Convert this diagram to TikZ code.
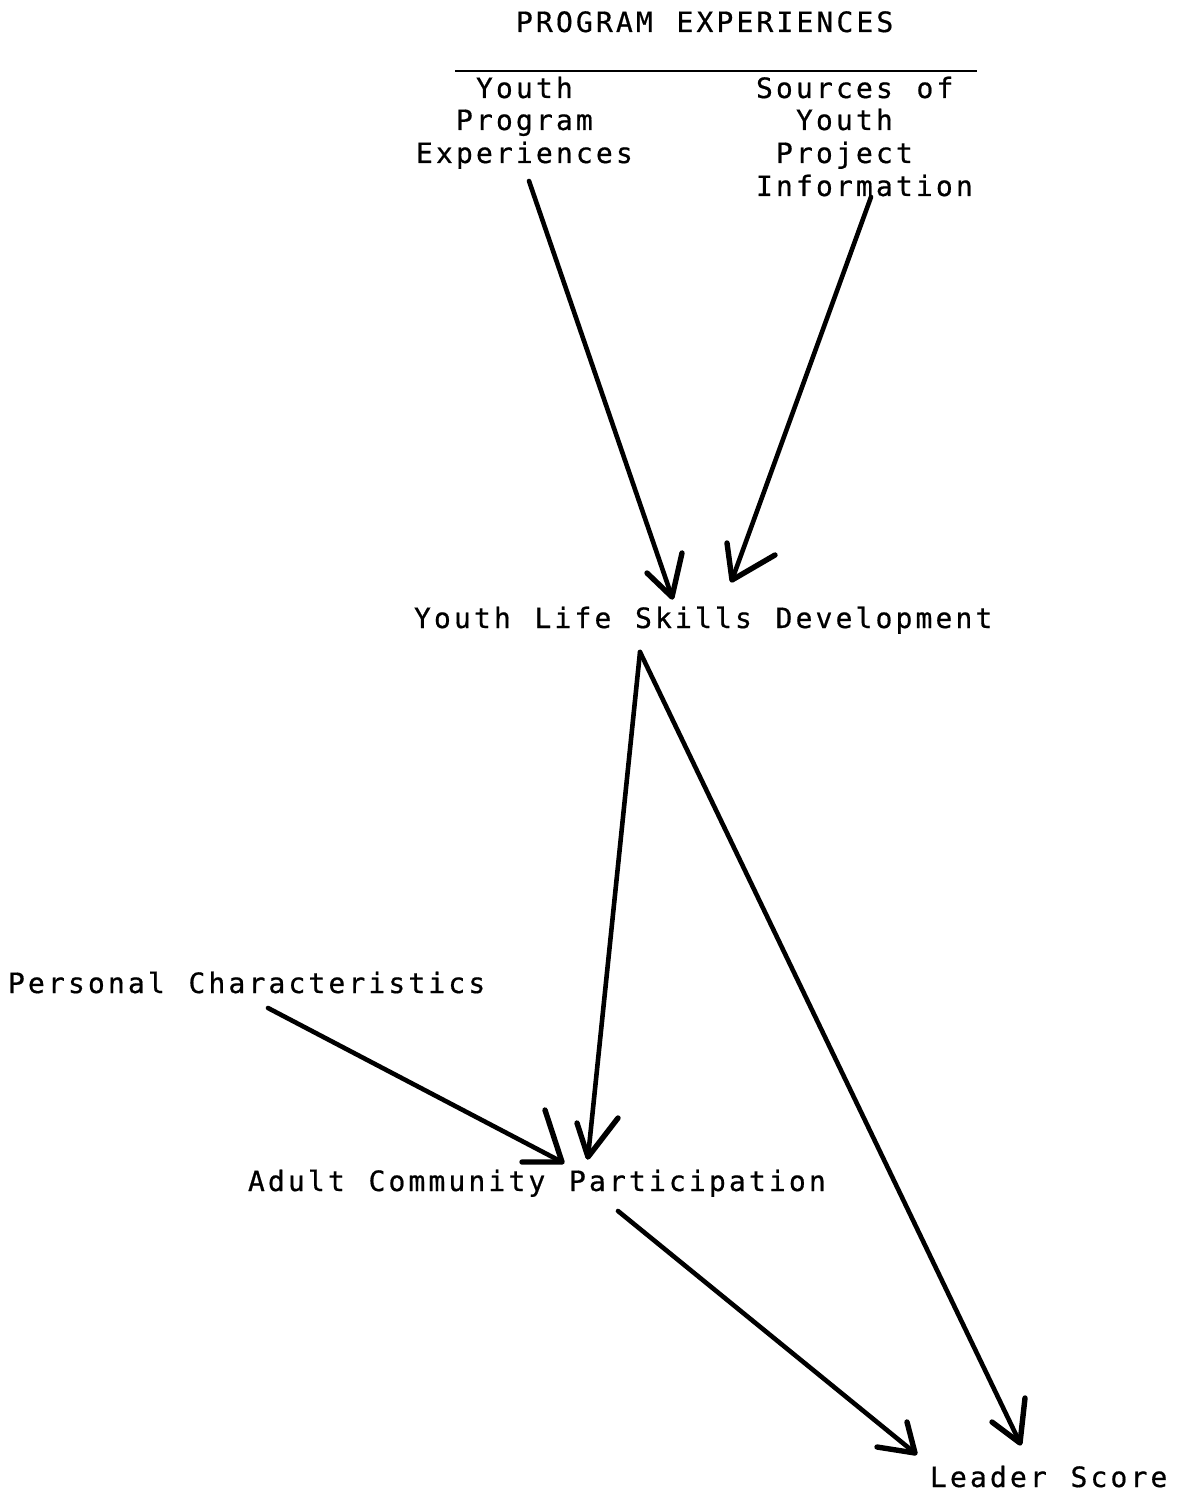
\documentclass[tikz,border=0pt]{standalone}
\usepackage{fontspec}
\newfontfamily\twfont{DejaVu Sans Mono}[LetterSpace=11.2,WordSpace=1.186,FakeBold=0.6]
\begin{document}
\begin{tikzpicture}[x=0.5pt,y=-0.5pt,
  lbl/.style={anchor=base west,inner sep=0pt,outer sep=0pt,
    font={\twfont\fontsize{14pt}{16pt}\selectfont}},
  conn/.style={line width=2.3pt,line cap=round,line join=round},
  head/.style={line width=2.7pt,line cap=round,line join=round}]
\useasboundingbox[fill=white] (0,0) rectangle (1179,1492);

% header
\node[lbl] (hdr) at (516,32) {PROGRAM EXPERIENCES};
\draw[line width=1pt] (455,71) -- (977,71);

% left column
\node[lbl] (yp1) at (476,98) {Youth};
\node[lbl] (yp2) at (456,130) {Program};
\node[lbl] (yp3) at (416,163) {Experiences};

% right column
\node[lbl] (sy1) at (756,98) {Sources of};
\node[lbl] (sy2) at (796,130) {Youth};
\node[lbl] (sy3) at (776,163) {Project};
\node[lbl] (sy4) at (756,196) {Information};

% outcome variables
\node[lbl] (lsd) at (414,628) {Youth Life Skills Development};
\node[lbl] (pc)  at (8,993)   {Personal Characteristics};
\node[lbl] (acp) at (248,1191) {Adult Community Participation};
\node[lbl] (ls)  at (930,1487) {Leader Score};

% connector end points
\coordinate (a1s) at (529,181);  \coordinate (a1t) at (672,597);
\coordinate (a2s) at (871,197);  \coordinate (a2t) at (732,580);
\coordinate (a3s) at (640,652);  \coordinate (a3t) at (588,1157);
\coordinate (a4s) at (640,652);  \coordinate (a4t) at (1020,1443);
\coordinate (a5s) at (268,1008); \coordinate (a5t) at (562,1162);
\coordinate (a6s) at (618,1211); \coordinate (a6t) at (915,1453);

% shafts
\draw[conn] (a1s) -- (a1t);
\draw[conn] (a2s) -- (a2t);
\draw[conn] (a3s) -- (a3t);
\draw[conn] (a4s) -- (a4t);
\draw[conn] (a5s) -- (a5t);
\draw[conn] (a6s) -- (a6t);

% hand-drawn open heads
\draw[head] (a1t) ++(-25,-24) -- (a1t) -- +(10,-44);
\draw[head] (a2t) ++(-5,-37) -- (a2t) -- +(43,-25);
\draw[head] (a3t) ++(-11,-34) -- (a3t) -- +(30,-39);
\draw[head] (a4t) ++(-28,-21) -- (a4t) -- +(5,-45);
\draw[head] (a5t) ++(-17,-52) -- (a5t) -- +(-40,0);
\draw[head] (a6t) ++(-8,-31) -- (a6t) -- +(-38,-6);
\end{tikzpicture}
\end{document}
